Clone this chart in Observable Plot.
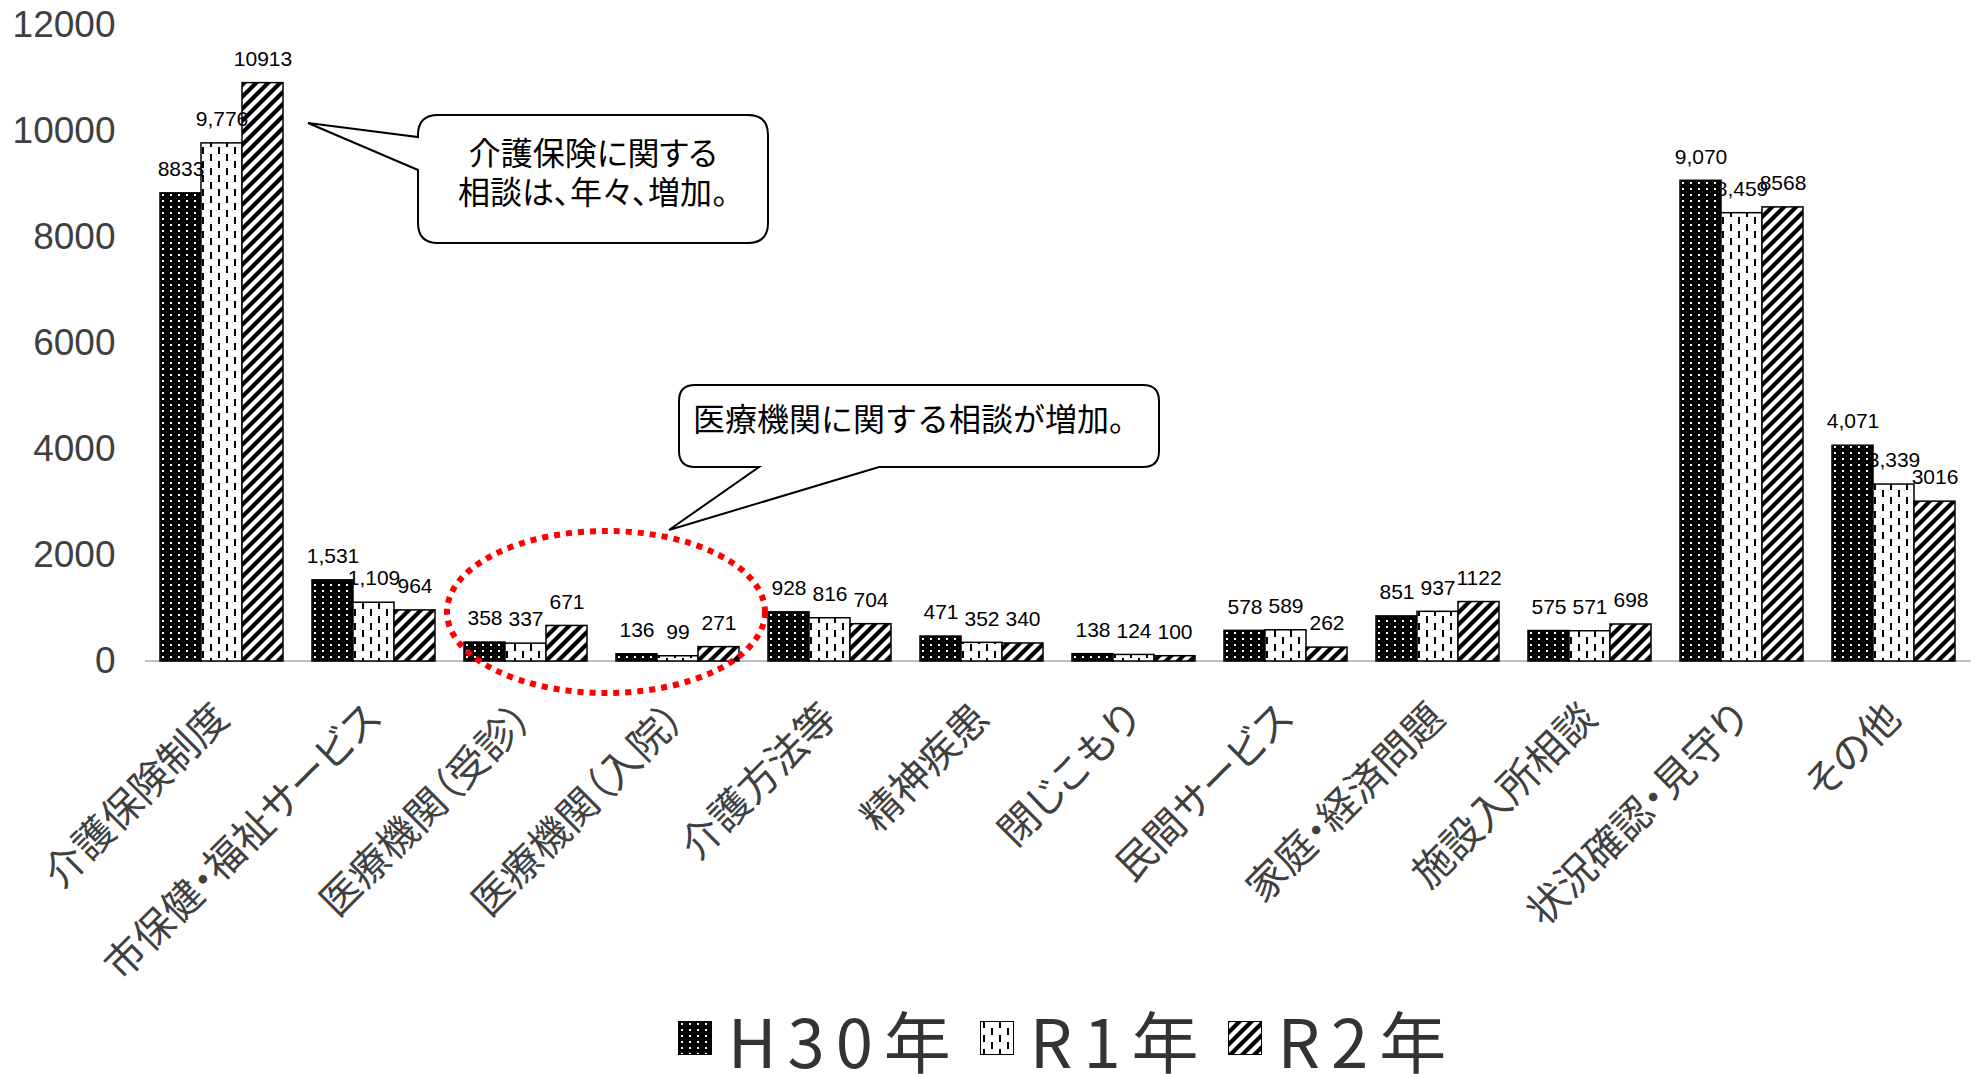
<!DOCTYPE html>
<html lang="ja">
<head>
<meta charset="utf-8">
<script src="https://cdn.jsdelivr.net/npm/d3@7"></script>
<script src="https://cdn.jsdelivr.net/npm/@observablehq/plot@0.6"></script>
<style>
  html, body { margin: 0; padding: 0; background: #fff; overflow: hidden; }
  #wrap { position: relative; width: 1975px; height: 1074px; }
  #legend {
    position: absolute; left: 80px; top: 1004px; width: 1975px; height: 68px;
    display: flex; justify-content: center; align-items: center;
    font-family: "Noto Sans CJK JP", "Liberation Sans", sans-serif;
    font-size: 67px; line-height: 1; color: #333; letter-spacing: 11px;
  }
  .item { display: flex; align-items: center; margin: 0 9px; height: 68px; }
  .item svg { margin-right: 16px; }
  .item span { line-height: 1; display: block; }
  .palt { font-feature-settings: "palt" 1; }
</style>
</head>
<body>
<div id="wrap">
  <div id="chart"></div>
  <div id="legend"></div>
</div>
<script>
// ---- data ----
const categories = [
  "介護保険制度", "市保健・福祉サービス", "医療機関（受診）", "医療機関（入院）",
  "介護方法等", "精神疾患", "閉じこもり", "民間サービス",
  "家庭・経済問題", "施設入所相談", "状況確認・見守り", "その他"
];
const years = ["H30年", "R1年", "R2年"];
const valuesH30 = [8833, 1531, 358, 136, 928, 471, 138, 578, 851, 575, 9070, 4071];
const valuesR1  = [9776, 1109, 337, 99, 816, 352, 124, 589, 937, 571, 8459, 3339];
const valuesR2  = [10913, 964, 671, 271, 704, 340, 100, 262, 1122, 698, 8568, 3016];
const labelsH30 = ["8833", "1,531", "358", "136", "928", "471", "138", "578", "851", "575", "9,070", "4,071"];
const labelsR1  = ["9,776", "1,109", "337", "99", "816", "352", "124", "589", "937", "571", "8,459", "3,339"];
const labelsR2  = ["10913", "964", "671", "271", "704", "340", "100", "262", "1122", "698", "8568", "3016"];
const yTicks = [0, 2000, 4000, 6000, 8000, 10000, 12000];
const callout1Lines = ["介護保険に関する", "相談は、年々、増加。"];
const callout2Text = "医療機関に関する相談が増加。";

// ---- table built from the arrays ----
const seriesValues = [valuesH30, valuesR1, valuesR2];
const seriesLabels = [labelsH30, labelsR1, labelsR2];
const patternIds = ["pat-h30", "pat-r1", "pat-r2"];
const data = [];
years.forEach((yr, s) => {
  categories.forEach((c, i) => {
    data.push({category: c, year: yr, value: seriesValues[s][i], label: seriesLabels[s][i]});
  });
});

// detect a narrow sans font for the y tick labels
function hasFont(name) {
  const ctx = document.createElement("canvas").getContext("2d");
  ctx.font = "44px monospace";
  const a = ctx.measureText("0123456789").width;
  ctx.font = `44px '${name}', monospace`;
  const b = ctx.measureText("0123456789").width;
  return Math.abs(a - b) > 0.5;
}
const narrowOK = hasFont("Liberation Sans Narrow");
const numFont = "'Liberation Sans', Arial, sans-serif";
const jpFont = "'Noto Sans CJK JP', 'Noto Sans', sans-serif";
const yFont = narrowOK ? "'Liberation Sans Narrow', 'Liberation Sans', sans-serif" : numFont;
const ySize = narrowOK ? 44 : 37;

const chart = Plot.plot({
  width: 1975,
  height: 1000,
  marginLeft: 145,
  marginRight: 4,
  marginTop: 25,
  marginBottom: 339,
  style: {background: "white", fontFamily: numFont},
  fx: {domain: categories, paddingInner: 0.19, paddingOuter: 0.095, label: null},
  x: {domain: years, padding: 0, axis: null},
  y: {domain: [0, 12000], axis: null},
  marks: [
    Plot.axisY(yTicks, {tickSize: 0, tickPadding: 45, fontSize: ySize, fill: "#404040",
      fontFamily: yFont, label: null, tickFormat: d => String(d)}),
    Plot.axisFx({anchor: "bottom", tickRotate: -45, tickSize: 0, tickPadding: 50, fontSize: 40,
      fill: "#404040", fontFamily: jpFont, label: null, className: "palt"}),
    ...years.map((yr, s) => Plot.barY(data.filter(d => d.year === yr), {
      fx: "category", x: "year", y: "value",
      fill: `url(#${patternIds[s]})`, stroke: "black", strokeWidth: 1.5
    })),
    Plot.text(data, {
      fx: "category", x: "year", y: "value", text: "label",
      dy: -24, fontSize: 21, fill: "black", fontFamily: numFont
    })
  ]
});
document.getElementById("chart").appendChild(chart);

// ---- patterns ----
const svg = d3.select(chart);
const defs = svg.insert("defs", ":first-child");
(function addPatterns() {
  const p1 = defs.append("pattern").attr("id", "pat-h30").attr("patternUnits", "userSpaceOnUse")
    .attr("width", 8).attr("height", 6);
  p1.append("rect").attr("width", 8).attr("height", 6).attr("fill", "black");
  p1.append("rect").attr("x", 3).attr("y", 2).attr("width", 2).attr("height", 2).attr("fill", "white");

  const p2 = defs.append("pattern").attr("id", "pat-r1").attr("patternUnits", "userSpaceOnUse")
    .attr("width", 16).attr("height", 14);
  p2.append("rect").attr("width", 16).attr("height", 14).attr("fill", "white");
  p2.append("rect").attr("x", 3).attr("y", 0).attr("width", 2).attr("height", 7).attr("fill", "black");
  p2.append("rect").attr("x", 11).attr("y", 7).attr("width", 2).attr("height", 7).attr("fill", "black");

  const p3 = defs.append("pattern").attr("id", "pat-r2").attr("patternUnits", "userSpaceOnUse")
    .attr("width", 12).attr("height", 12);
  p3.append("rect").attr("width", 12).attr("height", 12).attr("fill", "white");
  p3.append("path").attr("d", "M-3,3L3,-3M0,12L12,0M9,15L15,9")
    .attr("stroke", "black").attr("stroke-width", 4.2);
})();

// ---- baseline (continuous across facets) ----
const y0 = chart.scale("y").apply(0);
svg.insert("line", "defs + *")
  .attr("x1", 145).attr("x2", 1971).attr("y1", y0).attr("y2", y0)
  .attr("stroke", "#bfbfbf").attr("stroke-width", 2);

// ---- annotations ----
const ann = svg.append("g");
ann.append("ellipse").attr("cx", 606).attr("cy", 612).attr("rx", 159).attr("ry", 81)
  .attr("fill", "none").attr("stroke", "#ff0000").attr("stroke-width", 6)
  .attr("stroke-dasharray", "6,6");

(function () {
  const L = 418, T = 115, R = 768, B = 243, r = 20;
  const d = `M${L + r},${T}H${R - r}Q${R},${T} ${R},${T + r}V${B - r}Q${R},${B} ${R - r},${B}` +
    `H${L + r}Q${L},${B} ${L},${B - r}V170L308,123L${L},137V${T + r}Q${L},${T} ${L + r},${T}Z`;
  ann.append("path").attr("d", d).attr("fill", "white").attr("stroke", "black").attr("stroke-width", 2);
  callout1Lines.forEach((t, i) => {
    ann.append("text").attr("class", "palt").attr("x", 593).attr("y", 151 + i * 39)
      .attr("text-anchor", "middle").attr("dominant-baseline", "central")
      .attr("font-family", jpFont).attr("font-size", 32).attr("fill", "black").text(t);
  });
})();

(function () {
  const L = 679, T = 385, R = 1159, B = 467, r = 16;
  const d = `M${L + r},${T}H${R - r}Q${R},${T} ${R},${T + r}V${B - r}Q${R},${B} ${R - r},${B}` +
    `H879L669,530L759,${B}H${L + r}Q${L},${B} ${L},${B - r}V${T + r}Q${L},${T} ${L + r},${T}Z`;
  ann.append("path").attr("d", d).attr("fill", "white").attr("stroke", "black").attr("stroke-width", 2);
  ann.append("text").attr("x", 917).attr("y", 417).attr("text-anchor", "middle")
    .attr("dominant-baseline", "central").attr("font-family", jpFont).attr("font-size", 32)
    .attr("fill", "black").text(callout2Text);
})();

// ---- legend ----
const legend = d3.select("#legend");
years.forEach((yr, s) => {
  const item = legend.append("div").attr("class", "item");
  const sw = item.append("svg").attr("width", 34).attr("height", 34);
  sw.append("rect").attr("x", 0.5).attr("y", 0.5).attr("width", 33).attr("height", 33)
    .attr("fill", `url(#${patternIds[s]})`).attr("stroke", "black").attr("stroke-width", 1);
  item.append("span").text(yr);
});
</script>
</body>
</html>
